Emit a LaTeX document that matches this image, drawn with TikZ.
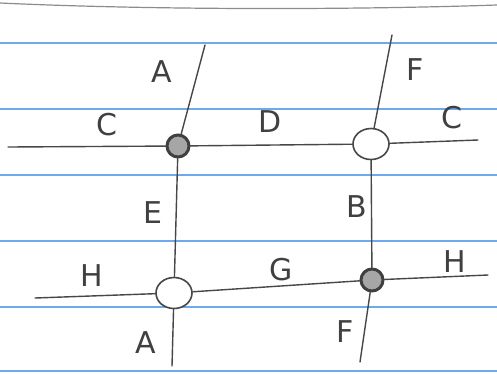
\documentclass[tikz,border=0pt]{standalone}
\usepackage{fontspec}
\setsansfont{DejaVu Sans}
\usetikzlibrary{shapes.geometric}
\begin{document}
\begin{tikzpicture}[x=1pt,y=-1pt,
  pencil/.style={draw=black!72,line width=1.4pt,line cap=round},
  ruled/.style={draw={rgb,255:red,110;green,170;blue,235},line width=2pt},
  junctionfilled/.style={circle,draw=black!75,line width=3pt,fill=black!35,minimum size=22pt,inner sep=0pt},
  junctionopen/.style={ellipse,draw=black!72,line width=1.6pt,fill=white,minimum width=36pt,minimum height=31pt,inner sep=0pt},
  lbl/.style={font=\sffamily\fontsize{30}{30}\selectfont\color{black!75}}]
\fill[white] (0,0) rectangle (497,373);
\useasboundingbox (0,0) rectangle (497,373);
% ruled lines
\foreach \yy in {43,109,175,241,307,371} \draw[ruled] (0,\yy) -- (497,\yy);
\draw[draw=black!45,line width=1.2pt] (0,3) .. controls (150,10) and (350,10) .. (497,5);
% junctions
\node[junctionfilled] (n1) at (178,146) {};
\node[junctionopen] (n2) at (371,144) {};
\node[junctionopen] (n3) at (174,293) {};
\node[junctionfilled] (n4) at (372,280) {};
% free ends
\coordinate (v1t) at (205,45);
\coordinate (v1b) at (172,366);
\coordinate (v2t) at (392,35);
\coordinate (v2b) at (360,362);
\coordinate (h1l) at (8,147);
\coordinate (h1r) at (478,140);
\coordinate (h2l) at (35,298);
\coordinate (h2r) at (488,275);
% lines
\draw[pencil] (v1t) -- (n1);
\draw[pencil] (n1) -- (n3);
\draw[pencil] (n3) -- (v1b);
\draw[pencil] (v2t) -- (n2);
\draw[pencil] (n2) -- (n4);
\draw[pencil] (n4) -- (v2b);
\draw[pencil] (h1l) -- (n1);
\draw[pencil] (n1) -- (n2);
\draw[pencil] (n2) -- (h1r);
\draw[pencil] (h2l) -- (n3);
\draw[pencil] (n3) -- (n4);
\draw[pencil] (n4) -- (h2r);
% labels
\node[lbl] (lA1) at (162,72) {A};
\node[lbl] (lF1) at (415,70) {F};
\node[lbl] (lC1) at (107,125) {C};
\node[lbl] (lD) at (270,122) {D};
\node[lbl] (lC2) at (452,118) {C};
\node[lbl] (lE) at (153,213) {E};
\node[lbl] (lB) at (357,207) {B};
\node[lbl] (lH1) at (92,276) {H};
\node[lbl] (lG) at (281,270) {G};
\node[lbl] (lH2) at (455,262) {H};
\node[lbl] (lA2) at (146,343) {A};
\node[lbl] (lF2) at (345,332) {F};
\end{tikzpicture}
\end{document}
